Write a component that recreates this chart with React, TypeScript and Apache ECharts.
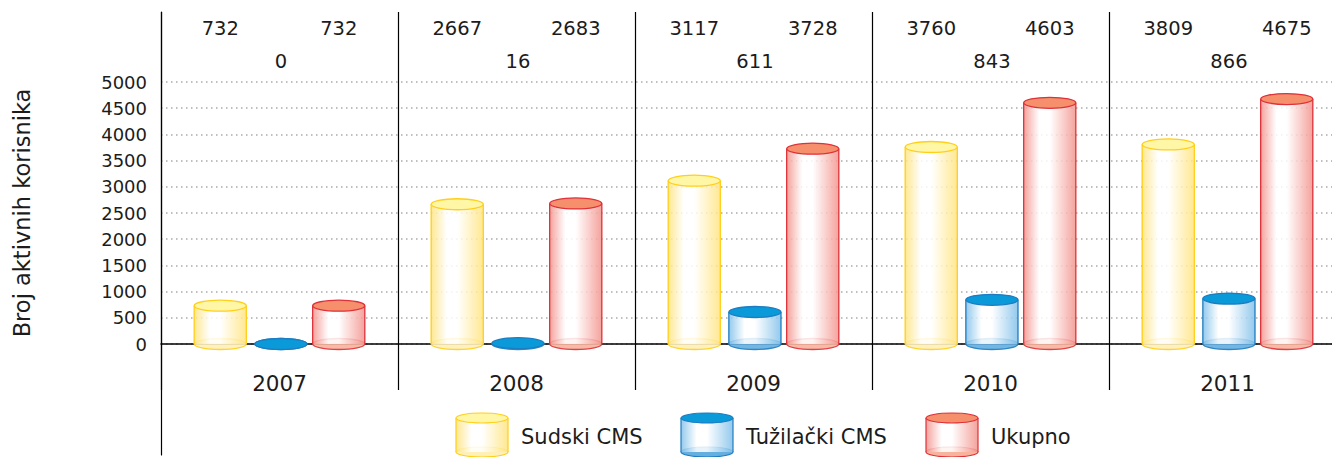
import React, { useEffect, useRef } from "react";
import * as echarts from "echarts";

const years = ["2007", "2008", "2009", "2010", "2011"];
const seriesNames = ["Sudski CMS", "Tužilački CMS", "Ukupno"];
const sudski = [732, 2667, 3117, 3760, 3809];
const tuzilacki = [0, 16, 611, 843, 866];
const ukupno = [732, 2683, 3728, 4603, 4675];
const yTicks = { min: 0, max: 5000, interval: 500 };

const FONT = "'DejaVu Sans', sans-serif";
const TEXT = "#1c1c1c";

const palettes = [
  { edge: "#FFE47E", stroke: "#FFCF1A", top: "#FFF6A6", bottom: "#FFF0B8" },
  { edge: "#80C0EA", stroke: "#1E7CC0", top: "#0A9AD9", bottom: "#64AEE0" },
  { edge: "#F3928B", stroke: "#DE3139", top: "#F58F6C", bottom: "#F7B39C" },
];
const offsets = [-0.25, 0.006, 0.25];
const labelOffsets = [54, 21, 54];

function bodyGradient(p: any) {
  return new echarts.graphic.LinearGradient(0, 0, 1, 0, [
    { offset: 0, color: p.edge },
    { offset: 0.3, color: "#ffffff" },
    { offset: 0.5, color: "#ffffff" },
    { offset: 1, color: p.edge },
  ]);
}

function makeRender(si: number) {
  const p = palettes[si];
  return (params: any, api: any) => {
    const i = api.value(0);
    const v = api.value(1);
    const band = api.size([1, 0])[0];
    const base = api.coord([i, 0]);
    const top = api.coord([i, v]);
    const cx = base[0] + offsets[si] * band;
    const rx = band * 0.11;
    const ry = 5.5;
    const h = base[1] - top[1];
    return {
      type: "group",
      children: [
        {
          type: "ellipse",
          shape: { cx, cy: base[1], rx, ry },
          style: { fill: p.bottom, stroke: p.stroke, lineWidth: 1.3, opacity: 0.9 },
        },
        {
          type: "rect",
          shape: { x: cx - rx, y: top[1], width: 2 * rx, height: h },
          style: { fill: bodyGradient(p), opacity: 0.85 },
        },
        {
          type: "line",
          shape: { x1: cx - rx, y1: top[1], x2: cx - rx, y2: base[1] },
          style: { stroke: p.stroke, lineWidth: 1.3 },
        },
        {
          type: "line",
          shape: { x1: cx + rx, y1: top[1], x2: cx + rx, y2: base[1] },
          style: { stroke: p.stroke, lineWidth: 1.3 },
        },
        {
          type: "ellipse",
          shape: { cx, cy: top[1], rx, ry },
          style: { fill: p.top, stroke: p.stroke, lineWidth: 1.3 },
        },
        {
          type: "text",
          x: cx,
          y: params.coordSys.y - labelOffsets[si],
          style: {
            text: String(v),
            fill: TEXT,
            fontFamily: FONT,
            fontSize: 19.5,
            align: "center",
            verticalAlign: "middle",
          },
        },
      ],
    };
  };
}

function legendItem(si: number, x: number) {
  const p = palettes[si];
  const rx = 26;
  const yTop = 418;
  const yBot = 452;
  return {
    type: "group",
    children: [
      { type: "ellipse", shape: { cx: x + rx, cy: yBot, rx, ry: 5 }, style: { fill: p.bottom, stroke: p.stroke, lineWidth: 1.2 } },
      { type: "rect", shape: { x, y: yTop, width: 2 * rx, height: yBot - yTop }, style: { fill: bodyGradient(p), opacity: 0.85 } },
      { type: "line", shape: { x1: x, y1: yTop, x2: x, y2: yBot }, style: { stroke: p.stroke, lineWidth: 1.2 } },
      { type: "line", shape: { x1: x + 2 * rx, y1: yTop, x2: x + 2 * rx, y2: yBot }, style: { stroke: p.stroke, lineWidth: 1.2 } },
      { type: "ellipse", shape: { cx: x + rx, cy: yTop, rx, ry: 5 }, style: { fill: p.top, stroke: p.stroke, lineWidth: 1.2 } },
      {
        type: "text",
        x: x + 65,
        y: 437,
        style: { text: seriesNames[si], fill: TEXT, fontFamily: FONT, fontSize: 21, align: "left", verticalAlign: "middle" },
      },
    ],
  };
}

export default function App() {
  const ref = useRef<HTMLDivElement>(null);
  useEffect(() => {
    if (!ref.current) return;
    const chart = echarts.init(ref.current, null, { renderer: "svg" });
    const seriesData = [sudski, tuzilacki, ukupno];
    const option: any = {
      animation: false,
      backgroundColor: "#ffffff",
      grid: [
        { left: 161, right: 0, top: 82, bottom: 113 },
        { left: 161, right: 0, top: 12, bottom: 67 },
        { left: 161, right: 0, top: 12, bottom: 2 },
      ],
      xAxis: [
        {
          type: "category",
          gridIndex: 0,
          data: years,
          axisLine: { show: true, lineStyle: { color: "#000", width: 1.5 } },
          axisTick: { show: false },
          axisLabel: { color: TEXT, fontFamily: FONT, fontSize: 21.5, margin: 28 },
          splitLine: { show: false },
        },
        {
          type: "category",
          gridIndex: 1,
          data: years,
          axisLine: { show: false },
          axisTick: { show: false },
          axisLabel: { show: false },
          splitLine: { show: true, lineStyle: { color: "#000", width: 1.2 } },
        },
        {
          type: "category",
          gridIndex: 2,
          data: years,
          show: false,
        },
      ],
      yAxis: [
        {
          type: "value",
          gridIndex: 0,
          min: yTicks.min,
          max: yTicks.max,
          interval: yTicks.interval,
          name: "Broj aktivnih korisnika",
          nameLocation: "middle",
          nameGap: 128,
          nameTextStyle: { color: TEXT, fontFamily: FONT, fontSize: 22.5 },
          axisLine: { show: false },
          axisTick: { show: false },
          axisLabel: {
            color: TEXT,
            fontFamily: FONT,
            fontSize: 18,
            margin: 14,
            formatter: (v: number) => String(v),
          },
          splitLine: { show: true, lineStyle: { color: "#aaaaaa", type: [1.5, 3.5], width: 1.5 } },
        },
        {
          type: "value",
          gridIndex: 1,
          show: false,
        },
        {
          type: "value",
          gridIndex: 2,
          axisLine: { show: true, lineStyle: { color: "#000", width: 1.2 } },
          axisTick: { show: false },
          axisLabel: { show: false },
          splitLine: { show: false },
        },
      ],
      series: seriesData.map((arr, si) => ({
        type: "custom",
        name: seriesNames[si],
        xAxisIndex: 0,
        yAxisIndex: 0,
        clip: false,
        renderItem: makeRender(si),
        data: arr.map((v, i) => [i, v]),
        z: 5,
      })),
      graphic: [legendItem(0, 456), legendItem(1, 681), legendItem(2, 926)],
    };
    chart.setOption(option);
    return () => chart.dispose();
  }, []);
  return (
    <div style={{ position: "fixed", left: 0, top: 0, width: 1332, height: 457, overflow: "hidden" }}>
      <div ref={ref} style={{ width: 1346, height: 457 }} />
    </div>
  );
}
